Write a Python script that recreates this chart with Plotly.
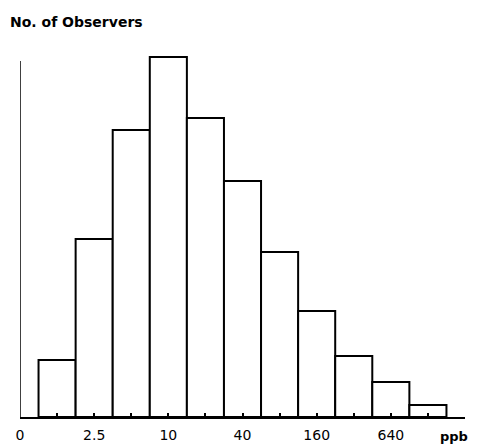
import plotly.graph_objects as go

# Concentration classes (ppb), each class doubles the previous
bin_centers_ppb = [1.25, 2.5, 5, 10, 20, 40, 80, 160, 320, 640, 1280]
# Number of observers per class (relative)
observers = [57, 178, 287, 360, 299, 236, 165, 106, 61, 35, 12]
# Tick labels shown on the x axis
tick_labels = ["0", "", "2.5", "", "10", "", "40", "", "160", "", "640", ""]

positions = list(range(1, len(observers) + 1))
tick_positions = list(range(0, len(observers) + 1))

W, H = 470, 438  # page body adds an 8px margin
L, R, T, B = 12, 13, 42, 29
PW, PH = W - L - R, H - T - B

fig = go.Figure()
fig.add_trace(go.Bar(
    x=positions,
    y=observers,
    width=1,
    marker=dict(color="white", line=dict(color="black", width=2)),
    hoverinfo="skip",
))

fig.update_layout(
    width=W, height=H,
    margin=dict(l=L, r=R, t=T, b=B, autoexpand=False),
    paper_bgcolor="white", plot_bgcolor="white",
    showlegend=False,
    font=dict(family="DejaVu Sans", size=14, color="black"),
    xaxis=dict(
        range=[0, 12], showgrid=False, zeroline=False,
        showline=True, linecolor="black", linewidth=2,
        tickmode="array", tickvals=tick_positions, ticktext=tick_labels,
        ticks="inside", ticklen=4, tickwidth=1.5, tickcolor="black",
        ticklabelstandoff=4,
        tickfont=dict(family="DejaVu Sans", size=14, color="black"),
        automargin=False,
    ),
    yaxis=dict(
        range=[0, PH], showgrid=False, zeroline=False, showline=False,
        showticklabels=False, ticks="", automargin=False,
    ),
    shapes=[dict(type="line", xref="x", yref="y", x0=0, x1=0, y0=0, y1=356,
                 line=dict(color="black", width=1.5))],
    annotations=[
        dict(text="<b>No. of Observers</b>", xref="paper", yref="paper",
             x=-L / PW, y=1 + 28 / PH, xanchor="left", yanchor="middle",
             showarrow=False, font=dict(family="DejaVu Sans", size=14, color="black")),
        dict(text="<b>ppb</b>", xref="paper", yref="paper",
             x=(461 - L) / PW, y=-20 / PH, xanchor="right", yanchor="middle",
             showarrow=False, borderpad=0,
             font=dict(family="DejaVu Sans", size=13, color="black")),
    ],
)

fig.write_html("out.html")
